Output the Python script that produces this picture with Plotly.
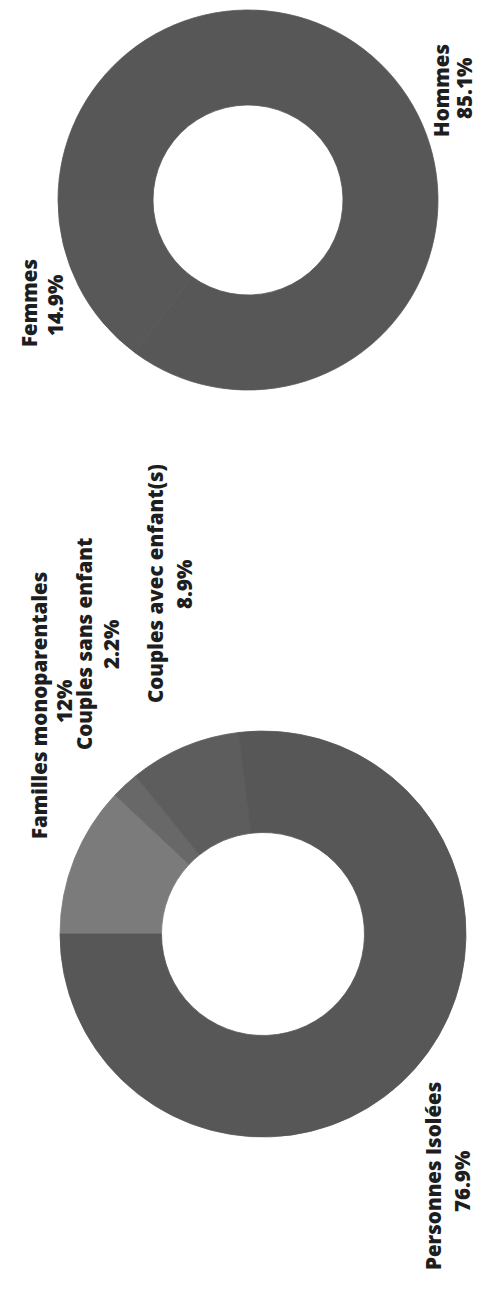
import plotly.graph_objects as go

# ---- data ----
menage_labels = ["Familles monoparentales", "Couples sans enfant", "Couples avec enfant(s)", "Personnes Isolées"]
menage_values = [12, 2.2, 8.9, 76.9]
sexe_labels = ["Hommes", "Femmes"]
sexe_values = [85.1, 14.9]

menage_colors = ["#7b7b7b", "#686868", "#5d5d5d", "#575757"]
sexe_colors = ["#575757", "#585858"]

W, H = 478, 1294

def px_x(x):
    return x / W

def px_y(y):
    return 1 - y / H

def domain(cx, cy, r):
    return dict(x=[px_x(cx - r), px_x(cx + r)], y=[px_y(cy + r), px_y(cy - r)])

fig = go.Figure()
fig.add_trace(go.Pie(
    labels=menage_labels, values=menage_values, hole=0.5, sort=False,
    direction="clockwise", rotation=270, textinfo="none", hoverinfo="label+percent",
    marker=dict(colors=menage_colors, line=dict(width=0.8, color=menage_colors)),
    domain=domain(263, 934, 203), showlegend=False,
))
fig.add_trace(go.Pie(
    labels=sexe_labels, values=sexe_values, hole=0.5, sort=False,
    direction="clockwise", rotation=270, textinfo="none", hoverinfo="label+percent",
    marker=dict(colors=sexe_colors, line=dict(width=0.8, color=sexe_colors)),
    domain=domain(248, 200, 190), showlegend=False,
))

# label placement (screen px): (name x, name y, pct x, pct y)
menage_pos = [(39, 706, 64, 701), (84, 644, 111, 644), (155, 584, 184, 584), (433, 1176, 462, 1181)]
sexe_pos = [(441, 91, 464, 88), (29, 303, 55, 305)]

font = dict(family="Open Sans", size=20.5, color="#1e1e1e", weight=800)
annotations = []
for labels, values, pos in [(menage_labels, menage_values, menage_pos), (sexe_labels, sexe_values, sexe_pos)]:
    for lab, val, (nx, ny, vx, vy) in zip(labels, values, pos):
        annotations.append(dict(text=lab, x=px_x(nx), y=px_y(ny), xref="paper", yref="paper",
                                textangle=-90, showarrow=False, xanchor="center", yanchor="middle", font=font))
        annotations.append(dict(text=f"{val:g}%", x=px_x(vx), y=px_y(vy), xref="paper", yref="paper",
                                textangle=-90, showarrow=False, xanchor="center", yanchor="middle", font=font))

fig.update_layout(
    width=W, height=H, margin=dict(l=0, r=0, t=0, b=0),
    paper_bgcolor="white", plot_bgcolor="white",
    annotations=annotations,
)

fig.write_html(
    "out.html",
    config={"displayModeBar": False},
    post_script="document.body.style.margin='0';document.body.style.overflow='hidden';document.documentElement.style.overflow='hidden';",
)
